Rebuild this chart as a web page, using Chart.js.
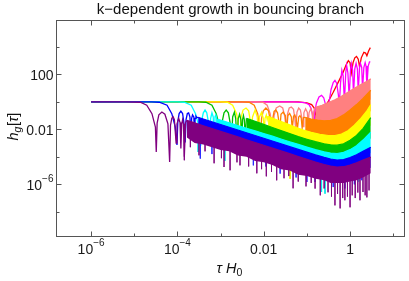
<!DOCTYPE html>
<html lang="en">
<head>
<meta charset="UTF-8">
<title>k-dependent growth in bouncing branch</title>
<script src="https://cdn.jsdelivr.net/npm/chart.js"></script>
<style>
    body { margin: 0; background: #fff; }
    #wrap { width: 409px; height: 281px; }
</style>
</head>
<body>
<div id="wrap"><canvas id="growthChart" width="409" height="281"></canvas></div>
<script>
// every value below is a log10 number: X = log10(tau H0), Y = log10(h_g)
const xRange = [-6.79, 1.25];
const yRange = [-9.76, 5.88];

const xTickExps = [-6, -5, -4, -3, -2, -1, 0, 1];
const xLabelExps = [-6, -4, -2, 0];
const xLabelBase = ['10', '10', '0.01', '1'];
const xLabelSup = ['\u22126', '\u22124', '', ''];
const yTickExps = [4, 2, 0, -2, -4, -6, -8];
const yLabelExps = [2, -2, -6];
const yLabelBase = ['100', '0.01', '10'];
const yLabelSup = ['', '', '\u22126'];

// red
const redX = [-6, -1.2, -1.0, -0.89, -0.83, -0.79, -0.77, -0.75, -0.72, -0.68, -0.62, -0.5, -0.39, -0.27, -0.16, -0.09, -0.04, 0.0, 0.03, 0.07, 0.11, 0.15, 0.19, 0.22, 0.26, 0.32, 0.36, 0.39, 0.43, 0.47];
const redY = [0, 0, -0.08, -0.2, -0.45, -1.0, -2.4, -1.5, -1.05, -0.8, -0.55, 0.05, 0.7, 1.45, 2.15, 2.7, 3.0, 2.85, 2.1, 2.85, 3.2, 3.3, 3.1, 2.55, 3.2, 3.6, 3.55, 3.35, 3.7, 3.94];

// magenta
const magentaX = [-6, -1.3, -1.05, -0.95, -0.9, -0.86, -0.84, -0.82, -0.78, -0.72, -0.66, -0.61, -0.56, -0.52, -0.49, -0.44, -0.39, -0.35, -0.31, -0.27, -0.25, -0.22, -0.19, -0.16, -0.13, -0.10, -0.08, -0.05, -0.02, 0.01, 0.03, 0.06, 0.08, 0.11, 0.14, 0.17, 0.19, 0.22, 0.24, 0.27, 0.29, 0.32, 0.35, 0.37, 0.39, 0.42, 0.45, 0.47];
const magentaY = [0, 0, -0.05, -0.2, -0.5, -1.1, -2.0, -0.8, -0.1, 0.35, 0.47, 0.3, -0.3, -1.3, -0.1, 0.9, 1.4, 1.56, 1.35, 0.5, -0.3, 1.4, 2.29, 1.9, 0.0, 2.1, 2.65, 2.1, 0.3, 2.3, 2.78, 2.3, 0.5, 2.4, 2.8, 2.4, 0.7, 2.5, 2.8, 2.5, 0.9, 2.5, 2.85, 2.6, 1.1, 2.6, 2.9, 2.9];

// salmon (pink)
const pinkArcX = [-6, -2.2, -2.02, -1.92, -1.85, -1.81, -1.79, -1.76, -1.71, -1.63, -1.56, -1.51, -1.48, -1.45, -1.41, -1.36, -1.31, -1.28, -1.26, -1.23, -1.19, -1.15, -1.11, -1.09, -1.07, -1.03, -0.99, -0.97, -0.95, -0.91, -0.88, -0.86, -0.84, -0.82, -0.80];
const pinkArcY = [0, 0, -0.03, -0.25, -0.86, -1.83, -2.4, -1.0, -0.45, -0.3, -0.45, -1.1, -2.2, -0.9, -0.45, -0.38, -0.55, -1.2, -2.0, -0.75, -0.45, -0.6, -1.3, -1.8, -0.8, -0.5, -0.75, -1.7, -0.8, -0.5, -0.8, -1.6, -0.7, -0.5, -0.4];
const pinkBandX = [-0.8, -0.65, -0.5, -0.35, -0.2, -0.05, 0.1, 0.25, 0.38, 0.48];
const pinkTop = [-0.4, -0.25, -0.05, 0.15, 0.4, 0.7, 0.98, 1.25, 1.47, 1.67];
const pinkBottom = [-1.9, -1.75, -1.55, -1.35, -1.1, -0.8, -0.52, -0.25, -0.03, 0.17];

// orange
const orangeArcX = [-6, -2.5, -2.34, -2.22, -2.14, -2.10, -2.08, -2.05, -2.01, -1.95, -1.89, -1.85, -1.82, -1.79, -1.76, -1.72, -1.68, -1.65, -1.63, -1.60, -1.55, -1.50, -1.47, -1.44, -1.40, -1.36, -1.34, -1.31, -1.28, -1.25, -1.22, -1.19, -1.16, -1.13, -1.11, -1.08, -1.04];
const orangeArcY = [0, 0, -0.03, -0.25, -0.86, -1.83, -2.6, -1.2, -0.65, -0.45, -0.65, -1.3, -2.4, -1.2, -0.7, -0.6, -0.8, -1.4, -2.2, -0.9, -0.75, -1.0, -2.1, -1.0, -0.85, -1.1, -2.0, -1.05, -0.95, -1.2, -2.0, -1.1, -1.0, -1.2, -1.9, -1.15, -1.13];
const orangeBandX = [-1.04, -0.9, -0.75, -0.6, -0.45, -0.3, -0.15, 0.0, 0.15, 0.3, 0.48];
const orangeTop = [-1.13, -1.25, -1.33, -1.38, -1.35, -1.22, -0.95, -0.6, -0.2, 0.25, 0.84];
const orangeBottom = [-2.63, -2.75, -2.83, -2.88, -2.85, -2.72, -2.45, -2.1, -1.7, -1.25, -0.66];

// yellow
const yellowArcX = [-6, -3.0, -2.84, -2.72, -2.63, -2.58, -2.55, -2.53, -2.48, -2.41, -2.35, -2.31, -2.29, -2.26, -2.2, -2.15, -2.12, -2.10, -2.05, -2.01, -1.99, -1.97, -1.94, -1.92, -1.90];
const yellowArcY = [0, 0, -0.03, -0.25, -0.86, -1.83, -3.0, -1.2, -0.6, -0.45, -0.65, -1.4, -2.8, -1.1, -0.6, -1.1, -2.6, -1.1, -0.75, -1.2, -2.4, -1.2, -0.95, -1.3, -1.05];
const yellowBandX = [-1.9, -1.7, -1.5, -1.3, -1.1, -0.9, -0.7, -0.5, -0.35, -0.2, -0.05, 0.1, 0.25, 0.38, 0.48];
const yellowTop = [-1.05, -1.3, -1.55, -1.8, -2.03, -2.22, -2.36, -2.45, -2.45, -2.35, -2.1, -1.7, -1.2, -0.7, -0.2];
const yellowBottom = [-2.55, -2.8, -3.05, -3.3, -3.53, -3.72, -3.86, -3.95, -3.95, -3.85, -3.6, -3.2, -2.7, -2.2, -1.7];
const yellowSpikeX = [-1.39];
const yellowSpikeFrom = [-3.0];
const yellowSpikeTo = [-5.6];

// green
const greenArcX = [-6, -3.5, -3.34, -3.2, -3.1, -3.02, -2.99, -2.96, -2.92, -2.87, -2.82, -2.78, -2.75, -2.72, -2.68, -2.65, -2.62, -2.59, -2.56, -2.53, -2.51, -2.49, -2.47, -2.45, -2.43, -2.40];
const greenArcY = [0, 0, -0.03, -0.25, -0.86, -1.83, -3.3, -1.4, -0.8, -0.6, -0.8, -1.5, -3.0, -1.1, -0.75, -1.2, -2.8, -1.2, -0.9, -1.3, -2.6, -1.3, -1.0, -1.3, -2.4, -1.2];
const greenBandX = [-2.4, -2.2, -2.0, -1.8, -1.6, -1.4, -1.2, -1.0, -0.8, -0.6, -0.45, -0.3, -0.15, 0.0, 0.15, 0.3, 0.48];
const greenTop = [-1.2, -1.42, -1.64, -1.87, -2.09, -2.31, -2.53, -2.72, -2.9, -3.05, -3.13, -3.15, -3.05, -2.8, -2.45, -1.95, -1.15];
const greenBottom = [-2.7, -2.92, -3.14, -3.37, -3.59, -3.81, -4.03, -4.22, -4.4, -4.55, -4.63, -4.65, -4.55, -4.3, -3.95, -3.45, -2.65];

// cyan
const cyanArcX = [-6, -4.0, -3.84, -3.68, -3.58, -3.50, -3.46, -3.44, -3.40, -3.36, -3.32, -3.28, -3.25, -3.23, -3.20, -3.17, -3.15, -3.13, -3.11, -3.09, -3.08, -3.06];
const cyanArcY = [0, 0, -0.03, -0.25, -0.86, -1.83, -3.2, -1.4, -0.8, -0.6, -0.8, -1.5, -3.0, -1.2, -0.8, -1.1, -2.7, -1.1, -0.95, -1.2, -2.4, -1.27];
const cyanBandX = [-3.06, -2.8, -2.6, -2.4, -2.2, -2.0, -1.8, -1.6, -1.4, -1.2, -1.0, -0.8, -0.6, -0.45, -0.3, -0.15, 0.0, 0.15, 0.3, 0.48];
const cyanTop = [-1.27, -1.53, -1.72, -1.92, -2.11, -2.31, -2.5, -2.7, -2.9, -3.09, -3.29, -3.48, -3.64, -3.73, -3.76, -3.68, -3.48, -3.2, -2.78, -2.2];
const cyanBottom = [-2.77, -3.03, -3.22, -3.42, -3.61, -3.81, -4.0, -4.2, -4.4, -4.59, -4.79, -4.98, -5.14, -5.23, -5.26, -5.18, -4.98, -4.7, -4.28, -3.7];
const cyanSpikeX = [-3.52, -2.9, -0.66, -0.58, 0.2];
const cyanSpikeFrom = [-2.4, -3.0, -4.8, -4.9, -4.5];
const cyanSpikeTo = [-3.65, -4.3, -6.56, -6.68, -5.8];

// blue
const blueArcX = [-6, -4.6, -4.42, -4.24, -4.13, -4.05, -4.01, -3.99, -3.96, -3.92, -3.88, -3.85, -3.82, -3.80, -3.77, -3.74, -3.71, -3.69, -3.67, -3.65, -3.62, -3.60, -3.59, -3.57, -3.55, -3.52];
const blueArcY = [0, 0, -0.03, -0.25, -0.86, -1.83, -3.14, -1.4, -0.85, -0.67, -0.85, -1.5, -2.95, -1.3, -0.85, -0.8, -1.1, -2.65, -1.2, -0.95, -1.1, -2.6, -1.2, -1.05, -1.15, -1.13];
const blueBandX = [-3.52, -3.4, -3.2, -3.0, -2.8, -2.6, -2.4, -2.2, -2.0, -1.8, -1.6, -1.4, -1.2, -1.0, -0.8, -0.6, -0.45, -0.3, -0.15, 0.0, 0.15, 0.3, 0.48];
const blueTop = [-1.13, -1.25, -1.45, -1.65, -1.85, -2.05, -2.25, -2.45, -2.65, -2.85, -3.05, -3.26, -3.46, -3.66, -3.86, -4.04, -4.16, -4.23, -4.2, -4.05, -3.85, -3.6, -3.31];
const blueBottom = [-2.6, -2.75, -2.95, -3.15, -3.35, -3.55, -3.75, -3.95, -4.15, -4.35, -4.55, -4.75, -4.95, -5.15, -5.35, -5.55, -5.65, -5.75, -5.7, -5.55, -5.35, -5.1, -4.8];
const blueSpikeX = [-3.47, -3.2, -2.24, -1.95, -1.62, -1.25, -1.0, -0.81, -0.39, -0.12, 0.1, 0.27];
const blueSpikeFrom = [-2.1, -2.4, -3.3, -3.6, -4.0, -4.4, -4.6, -4.8, -5.2, -5.2, -4.9, -4.6];
const blueSpikeTo = [-4.13, -3.8, -4.62, -4.7, -5.22, -5.5, -5.83, -5.83, -6.2, -6.3, -6.0, -5.7];

// purple
const purpleArcX = [-6, -5.2, -4.86, -4.71, -4.59, -4.51, -4.49, -4.47, -4.43, -4.36, -4.29, -4.22, -4.18, -4.16, -4.13, -4.10, -4.07, -4.03, -4.01, -3.97, -3.94, -3.92, -3.90, -3.88, -3.86, -3.84, -3.81, -3.78];
const purpleArcY = [0, 0, -0.03, -0.25, -0.86, -1.83, -3.65, -1.55, -0.95, -0.74, -0.9, -1.6, -4.38, -1.7, -1.2, -1.08, -1.3, -3.0, -1.6, -1.2, -1.5, -3.4, -1.6, -1.3, -1.6, -4.0, -1.5, -1.35];
const purpleBandX = [-3.78, -3.6, -3.4, -3.2, -3.0, -2.8, -2.6, -2.4, -2.2, -2.0, -1.8, -1.6, -1.4, -1.2, -1.0, -0.8, -0.6, -0.45, -0.3, -0.15, 0.0, 0.15, 0.3, 0.48];
const purpleTop = [-1.35, -1.53, -1.74, -1.94, -2.15, -2.35, -2.55, -2.76, -2.96, -3.16, -3.37, -3.57, -3.77, -3.98, -4.18, -4.38, -4.56, -4.68, -4.74, -4.72, -4.6, -4.43, -4.24, -4.02];
const purpleBottom = [-2.6, -3.0, -3.1, -3.3, -3.5, -3.6, -3.9, -4.0, -4.3, -4.4, -4.6, -4.9, -5.0, -5.3, -5.4, -5.6, -5.7, -5.9, -5.9, -5.9, -5.8, -5.7, -5.5, -5.2];
const purpleSpikeX = [-3.84, -3.7, -3.5, -3.36, -3.15, -2.98, -2.92, -2.78, -2.62, -2.55, -2.35, -2.16, -2.05, -1.94, -1.82, -1.7, -1.53, -1.42, -1.32, -1.2, -1.02, -0.9, -0.81, -0.69, -0.6, -0.51, -0.43, -0.35, -0.29, -0.23, -0.17, -0.12, -0.06, 0.0, 0.05, 0.12, 0.18, 0.23, 0.3, 0.35, 0.39, 0.44];
const purpleSpikeFrom = [-1.6, -2.2, -2.4, -2.6, -2.8, -3.0, -3.0, -3.2, -3.3, -3.4, -3.6, -3.8, -3.9, -4.0, -4.1, -4.3, -4.4, -4.6, -4.7, -4.8, -5.0, -5.1, -5.2, -5.3, -5.4, -5.5, -5.5, -5.5, -5.6, -5.6, -5.6, -5.5, -5.5, -5.4, -5.4, -5.3, -5.2, -5.2, -5.1, -5.0, -5.0, -4.9];
const purpleSpikeTo = [-4.25, -3.3, -3.89, -3.6, -4.47, -4.1, -4.74, -4.98, -4.4, -4.62, -4.7, -5.2, -4.9, -5.42, -5.1, -5.71, -5.56, -5.4, -6.29, -5.8, -6.15, -5.9, -6.31, -6.8, -6.3, -6.58, -6.9, -7.53, -6.7, -7.75, -7.0, -7.16, -6.9, -7.67, -6.8, -7.0, -6.6, -7.16, -6.56, -6.8, -6.95, -6.44];

const FONT = '"Liberation Sans", Arial, sans-serif';

function toPts(xs, ys) {
    return xs.map((x, i) => ({ x: 10 ** x, y: 10 ** ys[i] }));
}

function spikePts(xs, from, to) {
    const out = [];
    xs.forEach((x, i) => {
        out.push({ x: 10 ** x, y: 10 ** from[i] });
        out.push({ x: 10 ** x, y: 10 ** to[i] });
        out.push({ x: 10 ** x, y: null });
    });
    return out;
}

const datasets = [];

function addLine(xs, ys, color, order, width) {
    datasets.push({
        data: toPts(xs, ys), borderColor: color, borderWidth: width || 1.3,
        pointRadius: 0, showLine: true, fill: false, order: order
    });
}

function addBand(xs, top, bottom, color, order) {
    datasets.push({
        data: toPts(xs, top), borderColor: color, backgroundColor: color, borderWidth: 1.2,
        pointRadius: 0, showLine: true, fill: '+1', order: order
    });
    datasets.push({
        data: toPts(xs, bottom), borderColor: color, borderWidth: 0,
        pointRadius: 0, showLine: true, fill: false, order: order
    });
}

function addSpikes(xs, from, to, color, order) {
    datasets.push({
        data: spikePts(xs, from, to), borderColor: color, borderWidth: 1,
        pointRadius: 0, showLine: true, spanGaps: false, fill: false, order: order
    });
}

// lower order is drawn later, so purple ends up on top like the original
addLine(redX, redY, '#ff0000', 80);
addLine(magentaX, magentaY, '#ff00ff', 70);
addLine(pinkArcX, pinkArcY, '#ff8080', 60);
addBand(pinkBandX, pinkTop, pinkBottom, '#ff8080', 60);
addLine(orangeArcX, orangeArcY, '#ff8000', 50);
addBand(orangeBandX, orangeTop, orangeBottom, '#ff8000', 50);
addLine(yellowArcX, yellowArcY, '#ffff00', 40);
addBand(yellowBandX, yellowTop, yellowBottom, '#ffff00', 40);
addSpikes(yellowSpikeX, yellowSpikeFrom, yellowSpikeTo, '#e8e800', 40);
addLine(greenArcX, greenArcY, '#00c000', 30);
addBand(greenBandX, greenTop, greenBottom, '#00c000', 30);
addLine(cyanArcX, cyanArcY, '#00ffff', 20);
addBand(cyanBandX, cyanTop, cyanBottom, '#00ffff', 20);
addSpikes(cyanSpikeX, cyanSpikeFrom, cyanSpikeTo, '#00e8e8', 20);
addLine(blueArcX, blueArcY, '#0000ff', 10);
addBand(blueBandX, blueTop, blueBottom, '#0000ff', 10);
addSpikes(blueSpikeX, blueSpikeFrom, blueSpikeTo, 'rgba(40,40,255,0.85)', 10);
addLine(purpleArcX, purpleArcY, '#800080', 0);
addBand(purpleBandX, purpleTop, purpleBottom, '#800080', 0);
addSpikes(purpleSpikeX, purpleSpikeFrom, purpleSpikeTo, 'rgba(128,0,128,0.8)', 0);

function drawPower(ctx, base, sup, x, y, align) {
    ctx.font = '14px ' + FONT;
    const wb = ctx.measureText(base).width;
    ctx.font = '10px ' + FONT;
    const ws = sup ? ctx.measureText(sup).width : 0;
    const left = align === 'center' ? x - (wb + ws) / 2 : x - (wb + ws);
    ctx.textAlign = 'left';
    ctx.font = '14px ' + FONT;
    ctx.fillText(base, left, y);
    if (sup) {
        ctx.font = '10px ' + FONT;
        ctx.fillText(sup, left + wb, y - 8);
    }
}

const framePlugin = {
    id: 'frame',
    afterDraw(chart) {
        const { ctx, chartArea: a, scales } = chart;
        const sx = scales.x, sy = scales.y;
        ctx.save();
        // frame
        ctx.strokeStyle = '#555';
        ctx.lineWidth = 1;
        const L = Math.round(a.left) - 0.5, R = Math.round(a.right) + 0.5;
        const T = Math.round(a.top) - 0.5, B = Math.round(a.bottom) + 0.5;
        ctx.strokeRect(L, T, R - L, B - T);
        // inward ticks on all four sides
        ctx.beginPath();
        xTickExps.forEach(e => {
            const px = Math.round(sx.getPixelForValue(10 ** e)) + 0.5;
            const len = xLabelExps.includes(e) ? 5 : 3;
            ctx.moveTo(px, B); ctx.lineTo(px, B - len);
            ctx.moveTo(px, T); ctx.lineTo(px, T + len);
        });
        yTickExps.forEach(e => {
            const py = Math.round(sy.getPixelForValue(10 ** e)) + 0.5;
            const len = yLabelExps.includes(e) ? 5 : 3;
            ctx.moveTo(L, py); ctx.lineTo(L + len, py);
            ctx.moveTo(R, py); ctx.lineTo(R - len, py);
        });
        ctx.stroke();

        // tick labels
        ctx.fillStyle = '#1a1a1a';
        ctx.textBaseline = 'alphabetic';
        xLabelExps.forEach((e, i) => {
            const px = sx.getPixelForValue(10 ** e);
            drawPower(ctx, xLabelBase[i], xLabelSup[i], px, 253.5, 'center');
        });
        yLabelExps.forEach((e, i) => {
            const py = sy.getPixelForValue(10 ** e);
            drawPower(ctx, yLabelBase[i], yLabelSup[i], 53.5, py + 5.5, 'right');
        });

        // title
        ctx.fillStyle = '#111';
        ctx.textAlign = 'center';
        ctx.font = '15px ' + FONT;
        ctx.fillText('k\u2212dependent growth in bouncing branch', 230.5, 13.5);

        // x axis title: tau H_0
        ctx.textAlign = 'left';
        let x = 216.5;
        ctx.font = 'italic 14.5px ' + FONT;
        ctx.fillText('\u03c4', x, 272.5);
        x += ctx.measureText('\u03c4 ').width;
        ctx.fillText('H', x, 272.5);
        x += ctx.measureText('H').width;
        ctx.font = '10.5px ' + FONT;
        ctx.fillText('0', x, 275.5);

        // y axis title: h_g[tau], rotated
        ctx.translate(17.5, 140.5);
        ctx.rotate(-Math.PI / 2);
        let t = 0;
        ctx.font = 'italic 14.5px ' + FONT;
        ctx.fillText('h', t, 0);
        t += ctx.measureText('h').width;
        ctx.font = 'italic 10.5px ' + FONT;
        ctx.fillText('g', t, 3);
        t += ctx.measureText('g').width + 0.5;
        ctx.font = '14.5px ' + FONT;
        ctx.fillText('[', t, 0);
        t += ctx.measureText('[').width;
        ctx.font = 'italic 14.5px ' + FONT;
        ctx.fillText('\u03c4', t, 0);
        t += ctx.measureText('\u03c4').width;
        ctx.font = '14.5px ' + FONT;
        ctx.fillText(']', t, 0);
        ctx.restore();
    }
};

new Chart(document.getElementById('growthChart'), {
    type: 'scatter',
    data: { datasets: datasets },
    options: {
        responsive: false,
        animation: false,
        events: [],
        layout: { padding: { top: 21, right: 5, left: 0, bottom: 0 } },
        plugins: { legend: { display: false }, tooltip: { enabled: false } },
        scales: {
            x: {
                type: 'logarithmic', min: 10 ** xRange[0], max: 10 ** xRange[1],
                ticks: { display: false }, grid: { display: false }, border: { display: false },
                afterFit: s => { s.height = 45; }
            },
            y: {
                type: 'logarithmic', min: 10 ** yRange[0], max: 10 ** yRange[1],
                ticks: { display: false }, grid: { display: false }, border: { display: false },
                afterFit: s => { s.width = 57; }
            }
        }
    },
    plugins: [framePlugin]
});
</script>
</body>
</html>
